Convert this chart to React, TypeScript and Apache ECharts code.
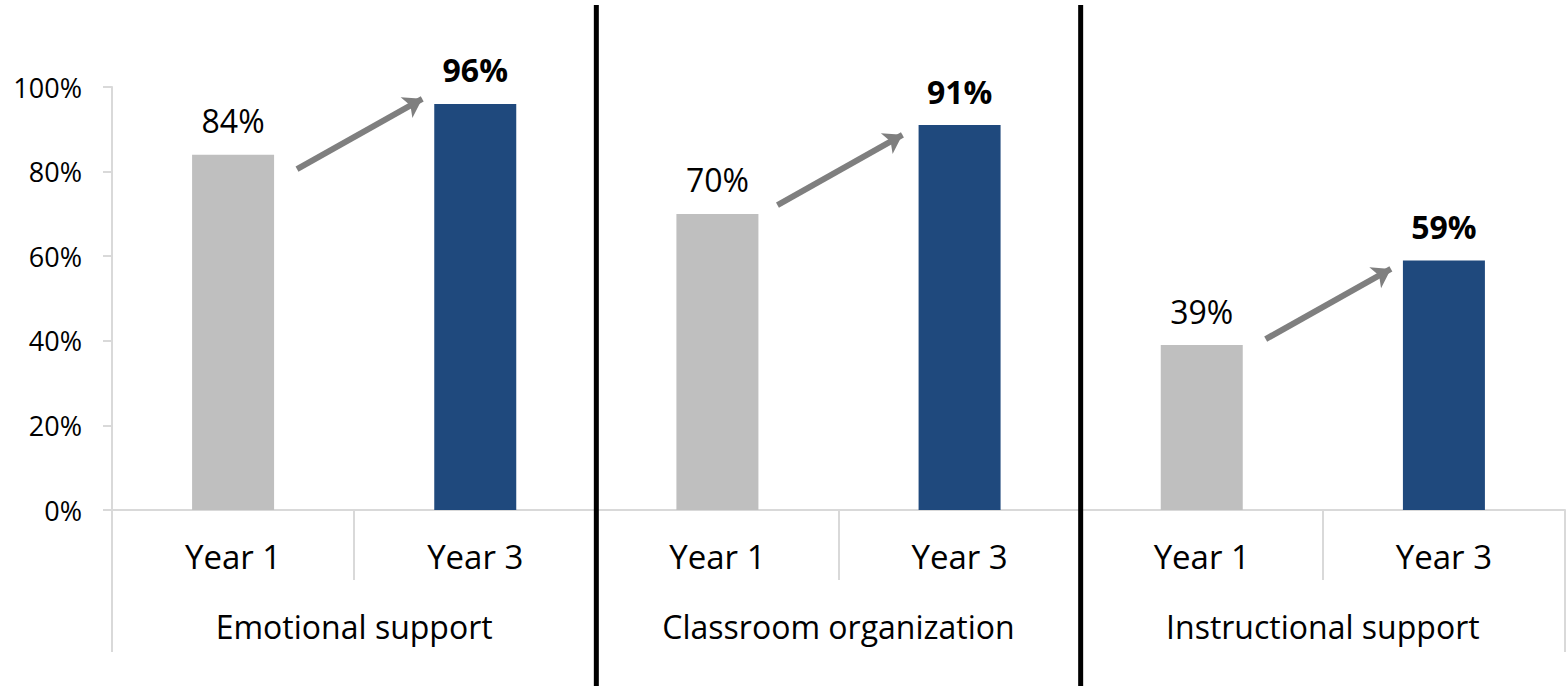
import React, { useEffect, useRef } from "react";
import * as echarts from "echarts";

const yearLabels = ["Year 1", "Year 3", "Year 1", "Year 3", "Year 1", "Year 3"];
const groupLabels = ["Emotional support", "Classroom organization", "Instructional support"];
const year1Values = [84, 70, 39];
const year3Values = [96, 91, 59];
const yTicks = [0, 20, 40, 60, 80, 100];
// arrows: [x start, y start, x end, y end] in (category index, percent) space
const arrowCoords = [
  [0.264, 80.6, 0.781, 97.2],
  [2.248, 72.1, 2.764, 88.7],
  [4.264, 40.4, 4.781, 57.0],
];
const separatorPositions = [1.5, 3.5];

const FONT = "'Open Sans', sans-serif";
const GRAY = "#bfbfbf";
const NAVY = "#1f497d";
const AXIS_GRAY = "#d9d9d9";

export default function App() {
  const ref = useRef<HTMLDivElement>(null);
  useEffect(() => {
    document.body.style.margin = "0";
    const chart = echarts.init(ref.current!, null, { renderer: "svg" });
    const barData: any[] = [];
    for (let i = 0; i < groupLabels.length; i++) {
      barData.push({ value: year1Values[i], itemStyle: { color: GRAY }, label: { fontWeight: "normal" } });
      barData.push({ value: year3Values[i], itemStyle: { color: NAVY }, label: { fontWeight: "bold" } });
    }
    chart.setOption({
      animation: false,
      grid: { left: 112, right: 3, top: 87, bottom: 177, containLabel: false },
      xAxis: [
        {
          type: "category",
          data: yearLabels,
          position: "bottom",
          axisLine: { show: true, onZero: false, lineStyle: { color: AXIS_GRAY, width: 2 } },
          axisTick: { show: true, length: 70, interval: 0, lineStyle: { color: AXIS_GRAY, width: 2 } },
          axisLabel: { interval: 0, margin: 30, fontSize: 33, color: "#000", fontFamily: FONT },
        },
        {
          type: "category",
          data: groupLabels,
          position: "bottom",
          axisLine: { show: false, onZero: false },
          axisTick: { show: true, length: 142, interval: 0, lineStyle: { color: AXIS_GRAY, width: 2 } },
          axisLabel: { interval: 0, margin: 100, fontSize: 32, color: "#000", fontFamily: FONT },
        },
        { type: "value", min: -0.5, max: 5.5, show: false },
      ],
      yAxis: {
        type: "value",
        min: yTicks[0],
        max: yTicks[yTicks.length - 1],
        interval: 20,
        position: "left",
        axisLine: { show: true, onZero: false, lineStyle: { color: AXIS_GRAY, width: 2 } },
        axisTick: { show: true, length: 9, lineStyle: { color: AXIS_GRAY, width: 2 } },
        splitLine: { show: false },
        axisLabel: { formatter: "{value}%", fontSize: 27, color: "#000", margin: 30, fontFamily: FONT },
      },
      series: [
        {
          type: "bar",
          xAxisIndex: 0,
          data: barData,
          barWidth: 82,
          label: {
            show: true,
            position: "top",
            distance: 18,
            formatter: "{c}%",
            fontSize: 32,
            color: "#000",
            fontFamily: FONT,
          },
        },
        {
          type: "lines",
          coordinateSystem: "cartesian2d",
          xAxisIndex: 2,
          yAxisIndex: 0,
          symbol: ["none", "arrow"],
          symbolSize: 18,
          lineStyle: { color: "#7f7f7f", width: 6, opacity: 1 },
          data: arrowCoords.map((a) => ({ coords: [[a[0], a[1]], [a[2], a[3]]] })),
        },
      ],
    });
    const sepGraphics = separatorPositions.map((p) => {
      const x = chart.convertToPixel({ xAxisIndex: 2 }, p) as number;
      return {
        type: "line",
        shape: { x1: x, y1: 5, x2: x, y2: 686 },
        style: { stroke: "#000", lineWidth: 5 },
        z: 100,
      };
    });
    chart.setOption({ graphic: sepGraphics });
    return () => chart.dispose();
  }, []);
  return <div ref={ref} style={{ width: 1568, height: 687 }} />;
}
